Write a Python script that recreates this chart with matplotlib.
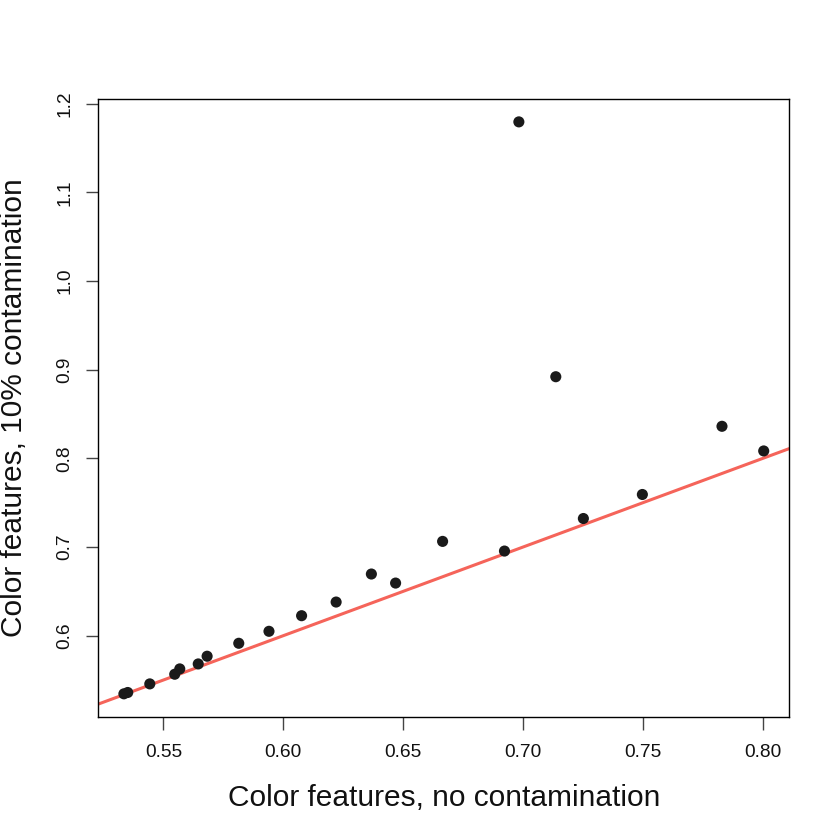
import matplotlib
matplotlib.use("Agg")
import matplotlib.pyplot as plt
import numpy as np

plt.rcParams['font.family'] = ['Liberation Sans', 'DejaVu Sans']

# Data
no_contamination = [0.5335, 0.5351, 0.5443, 0.5547, 0.5568, 0.5645, 0.5682,
                    0.5814, 0.5940, 0.6076, 0.6220, 0.6367, 0.6468, 0.6664,
                    0.6922, 0.6982, 0.7136, 0.7251, 0.7497, 0.7829, 0.8003]
contamination_10 = [0.5344, 0.5359, 0.5456, 0.5565, 0.5625, 0.5681, 0.5768,
                    0.5914, 0.6049, 0.6225, 0.6379, 0.6695, 0.6593, 0.7063,
                    0.6954, 1.1794, 0.8920, 0.7321, 0.7592, 0.8361, 0.8083]
x_ticks = [0.55, 0.60, 0.65, 0.70, 0.75, 0.80]
y_ticks = [0.6, 0.7, 0.8, 0.9, 1.0, 1.1, 1.2]
x_label = "Color features, no contamination"
y_label = "Color features, 10% contamination"

fig = plt.figure(figsize=(8.4, 8.4), dpi=100)
ax = fig.add_axes([98.3 / 840, 123.3 / 840, 691 / 840, 617.7 / 840])

x = np.array(no_contamination)
y = np.array(contamination_10)

# R-style 4% padding
def pad(v):
    lo, hi = v.min(), v.max()
    w = hi - lo
    return lo - 0.04 * w, hi + 0.04 * w

ax.set_xlim(*pad(x))
ax.set_ylim(*pad(y))

ax.scatter(x, y, s=64, color='#1a1a1a', edgecolors='none', zorder=3)
ax.axline((0, 0), slope=1, color='#F5645A', lw=2.2, zorder=2)

ax.set_xticks(x_ticks)
ax.set_xticklabels([f"{v:.2f}" for v in x_ticks])
ax.set_yticks(y_ticks)
ax.set_yticklabels([f"{v:.1f}" for v in y_ticks], rotation=90, va='center')

ax.tick_params(axis='both', direction='out', length=9, width=1.0,
               color='#444444', labelsize=13.8, labelcolor='#111111')
ax.tick_params(axis='x', pad=11)
ax.tick_params(axis='y', pad=9)

for sp in ax.spines.values():
    sp.set_linewidth(1.0)
    sp.set_color('black')

ax.set_xlabel(x_label, fontsize=21.5, va='center', color='#111111')
ax.xaxis.set_label_coords(0.5, (42 - 123.3) / 617.7)
ax.set_ylabel(y_label, fontsize=21.5, va='center', color='#111111')
ax.yaxis.set_label_coords((14 - 98.3) / 691, 0.5)

fig.savefig("out.png", dpi=100, facecolor='white')
